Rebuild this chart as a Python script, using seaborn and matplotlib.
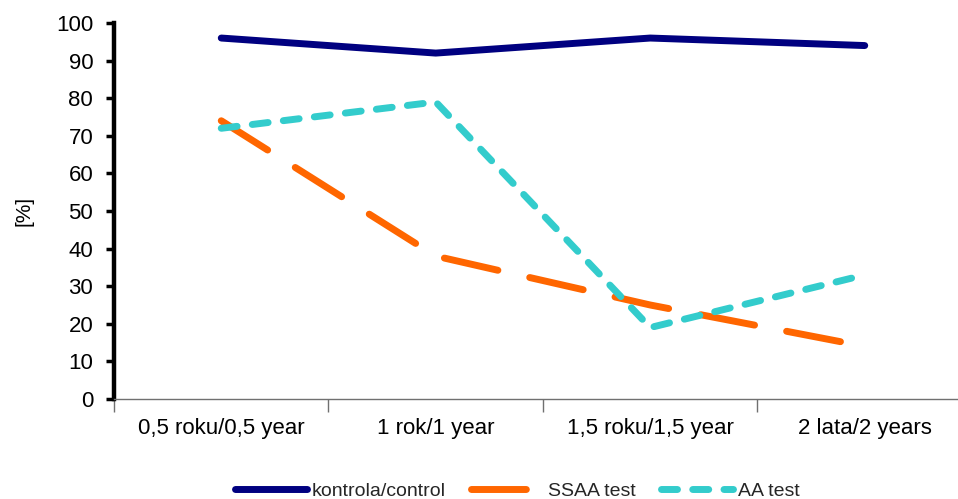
import matplotlib
matplotlib.use("Agg")
import matplotlib.pyplot as plt
import seaborn as sns
import pandas as pd
import numpy as np

# Time points (Polish/English)
periods = ["0,5 roku/0,5 year", "1 rok/1 year", "1,5 roku/1,5 year", "2 lata/2 years"]

# Percentages per group
control = [96, 92, 96, 94]
ssaa = [74, 38, 25, 14]
aa = [72, 79, 19, 33]

series_names = ["kontrola/control", "SSAA test", "AA test"]
series_values = [control, ssaa, aa]
series_colors = ["#000080", "#FF6600", "#33CCCC"]

sns.set_theme(style="white")
plt.rcParams["font.family"] = ["Liberation Sans", "DejaVu Sans"]

fig = plt.figure(figsize=(9.58, 4.99), dpi=100)
ax = fig.add_axes([0.119, 0.2004, 0.8956, 0.7535])

pos = np.arange(len(periods))
frames = []
for name, vals in zip(series_names, series_values):
    frames.append(pd.DataFrame({"pos": pos, "value": vals, "group": name}))
df = pd.concat(frames, ignore_index=True)

styles = {
    "kontrola/control": dict(linestyle="-", lw=5.0),
    "SSAA test": dict(linestyle=(0, (7.9, 4.7)), lw=5.0),
    "AA test": dict(linestyle=(0, (2.3, 2.2)), lw=5.0),
}

for name, color in zip(series_names, series_colors):
    sub = df[df["group"] == name]
    sns.lineplot(data=sub, x="pos", y="value", ax=ax, color=color,
                 label=name, sort=False, solid_capstyle="round",
                 dash_capstyle="round", solid_joinstyle="round",
                 **styles[name])

ax.set_xlim(-0.5, len(periods) - 0.5)
ax.set_ylim(0, 100)
ax.set_yticks(range(0, 101, 10))
ax.set_xticks(pos)
ax.set_xticklabels(periods)
ax.set_xticks(np.arange(-0.5, len(periods), 1.0), minor=True)
ax.tick_params(axis="x", which="major", length=0, pad=14, labelsize=16,
               labelcolor="black")
ax.tick_params(axis="x", which="minor", length=9, width=1.0, color="#707070",
               direction="out", bottom=True)
ax.tick_params(axis="y", which="major", length=6, width=2.5, color="black",
               direction="out", left=True, pad=9, labelsize=16,
               labelcolor="black")

for side in ["top", "right"]:
    ax.spines[side].set_visible(False)
ax.spines["left"].set_linewidth(3.2)
ax.spines["left"].set_color("black")
ax.spines["bottom"].set_linewidth(1.0)
ax.spines["bottom"].set_color("#707070")

ax.set_xlabel("")
ax.set_ylabel("[%]", fontsize=15, color="black", labelpad=16)
ax.grid(False)

handles, labels = ax.get_legend_handles_labels()
ax.get_legend().remove()
fig.legend(handles, labels, loc="center", bbox_to_anchor=(0.54, 0.016),
           ncol=3, frameon=False, fontsize=14, handlelength=3.7,
           handletextpad=0.26, columnspacing=1.3)

fig.savefig("out.png", dpi=100)
